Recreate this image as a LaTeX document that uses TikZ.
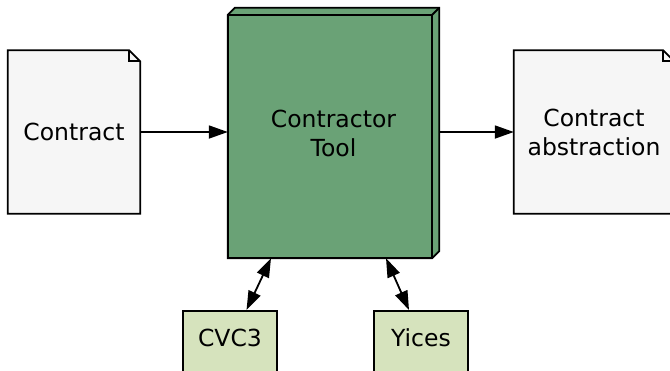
\documentclass[tikz,border=0pt]{standalone}
\usepackage{fontspec}
\setmainfont{DejaVu Sans}
\usetikzlibrary{arrows.meta,backgrounds}
\definecolor{toolgreen}{RGB}{106,162,118}
\definecolor{paper}{RGB}{246,246,246}
\definecolor{solverfill}{RGB}{214,227,189}

% document outline with a folded top-right corner, drawn behind a node
\newcommand\dogear[1]{%
  \filldraw[rim, fill=paper] (#1.north west) -- ([xshift=-11bp]#1.north east)
    -- ([yshift=-11bp]#1.north east) -- (#1.south east) -- (#1.south west) -- cycle;
  \draw[rim] ([xshift=-11bp]#1.north east) |- ([yshift=-11bp]#1.north east);}

\begin{document}
\begin{tikzpicture}[x=1bp,y=-1bp,
  font=\fontsize{23.5bp}{29bp}\selectfont,
  rim/.style={draw=black, line width=1.8bp},
  doc/.style={inner sep=0pt, align=center, minimum height=163bp},
  solver/.style={rim, fill=solverfill, inner sep=0pt,
                 minimum width=94bp, minimum height=80bp, anchor=north},
  headtip/.tip={Triangle[length=19bp,width=13bp]},
  flow/.style={rim, -headtip},
  twoway/.style={rim, headtip-headtip},
]
\useasboundingbox (0,0) rectangle (670,370);

% documents
\node[doc, minimum width=132bp] (contract) at (74,132) {Contract};
\node[doc, minimum width=160bp] (abstraction) at (594,132) {Contract\\abstraction};

% the tool, drawn as a box with depth
\node[inner sep=0pt, align=center, minimum width=211bp, minimum height=250bp]
  (tool) at (333.5,133) {Contractor\\Tool};

% solvers
\node[solver] (cvc) at (230,310) {};
\node (cvclabel) at (230,338) {CVC3};
\node[solver] (yices) at (421,310) {};
\node (yiceslabel) at (421,338) {Yices};

\begin{scope}[on background layer]
  \dogear{contract}
  \dogear{abstraction}
  \filldraw[rim, fill=toolgreen]
    ([yshift=-7bp]tool.north west) -- ([xshift=7bp]tool.north west)
    -- (tool.north east) -- ([yshift=7bp]tool.south east)
    -- ([xshift=-7bp]tool.south east) -- (tool.south west) -- cycle;
  \draw[rim] (tool.south west) rectangle ([xshift=-7bp,yshift=-7bp]tool.north east);
  \draw[rim] ([xshift=-7bp,yshift=-7bp]tool.north east) -- (tool.north east);
\end{scope}

% connectors
\draw[flow] (contract.east) -- (contract.east -| tool.west);
\draw[flow] (tool.east |- abstraction.west) -- (abstraction.west);
\draw[twoway] ([xshift=-62.5bp]tool.south) -- ([xshift=16.5bp]cvc.north);
\draw[twoway] ([xshift=52.5bp]tool.south) -- ([xshift=-12bp]yices.north);
\end{tikzpicture}
\end{document}
